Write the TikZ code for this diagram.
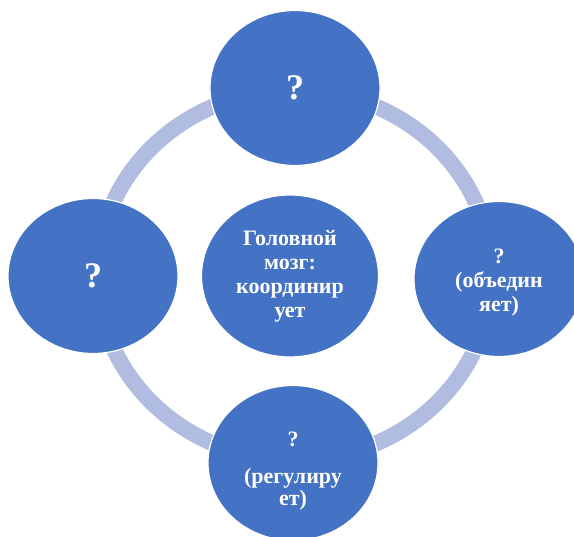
\documentclass[tikz,border=0pt]{standalone}
\usepackage{fontspec}
\setmainfont{Liberation Serif}
\usepackage{tikz}
\usetikzlibrary{shapes.geometric, positioning, backgrounds}
\definecolor{partblue}{RGB}{68, 114, 196}
\definecolor{ringblue}{RGB}{176, 188, 224}

\begin{document}
\begin{tikzpicture}[
    x=1pt, y=1pt,
    on grid,
    part/.style={ellipse, minimum width=170pt, minimum height=155pt, inner sep=0pt, draw=white, line width=1.2pt, fill=partblue, text=white, align=center, font=\bfseries\fontsize{22}{24}\selectfont},
    ask/.style={font=\bfseries\fontsize{36}{38}\selectfont},
    ring/.style={ringblue, line width=16pt}
]

    \useasboundingbox (0,0) rectangle (574,537);

    \node[part, minimum width=177pt, minimum height=162pt] (brain) at (290,261) {Головной\\мозг:\\координир\\ует};
    \node[part, ask, above right=188pt and 5pt of brain] (top) {?};
    \node[part, ask, left=197pt of brain] (left) {?};
    \node[part, below right=3pt and 209pt of brain] (right) {\rule{0pt}{22pt}?\\(объедин\\яет)};
    \node[part, below right=187pt and 3pt of brain] (bottom) {\rule{0pt}{30pt}?\\[13pt](регулиру\\[-2pt]ет)};

    % ring behind the four outer parts
    \begin{scope}[on background layer]
        \draw[ring] ([shift={(4.5,1)}]brain.center) ellipse [x radius=197pt, y radius=185pt];
    \end{scope}

\end{tikzpicture}
\end{document}
